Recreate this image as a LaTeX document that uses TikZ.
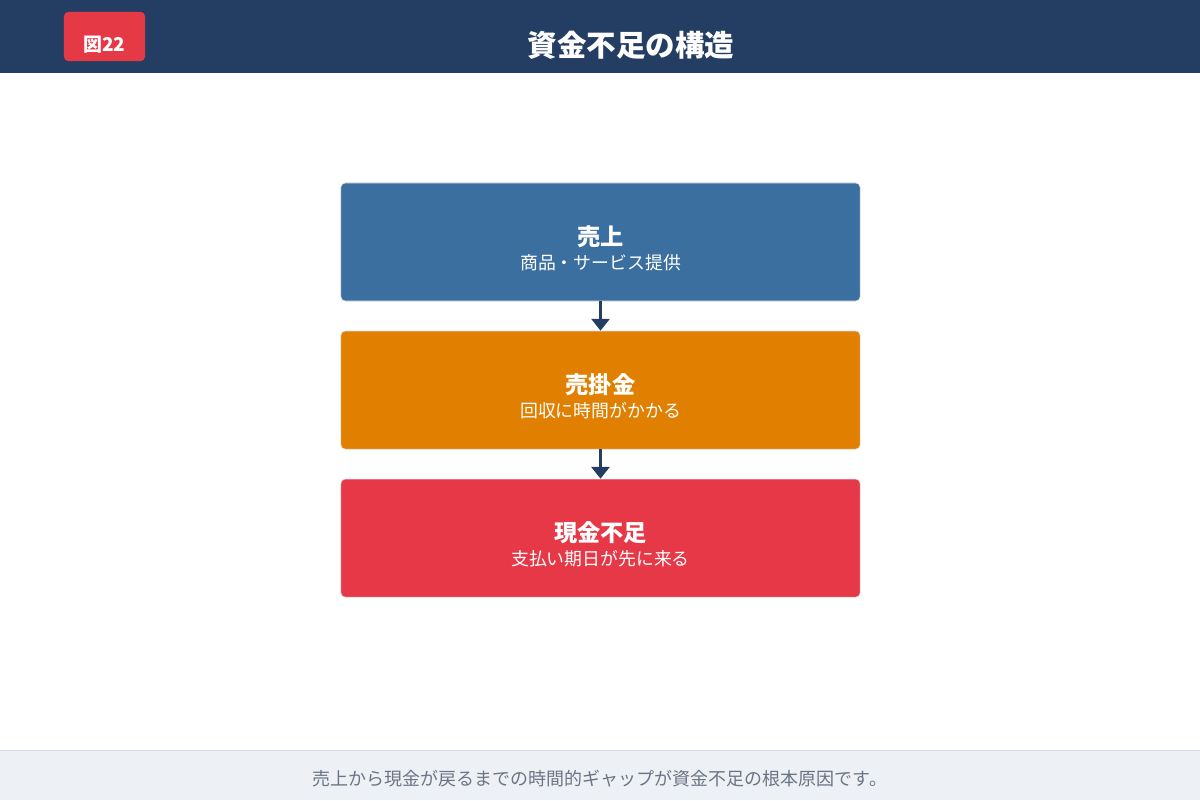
\documentclass[tikz,border=0pt]{standalone}
\usepackage{fontspec}
\setmainfont{Noto Sans CJK JP}
\usepackage{tikz}
\usetikzlibrary{arrows.meta,calc,positioning}
\definecolor{navy}{HTML}{243E63}
\definecolor{badgered}{HTML}{E63946}
\definecolor{boxblue}{HTML}{3B6FA0}
\definecolor{boxorange}{HTML}{E07F00}
\definecolor{boxred}{HTML}{E63846}
\definecolor{footbg}{HTML}{EDF1F6}
\definecolor{footline}{HTML}{D3DAE4}
\definecolor{foottext}{HTML}{6B7585}
\newcommand{\steptext}[2]{\rule{0pt}{23pt}{\fontsize{16.5}{17.7}\selectfont\bfseries #1}\\
    {\fontsize{12.7}{17.7}\selectfont #2}}
\tikzstyle{step box}=[rectangle, rounded corners=3pt, minimum width=12.975cm,
                    minimum height=2.95cm, inner sep=0pt, align=center,
                    text=white, draw=white!75!gray, line width=0.4pt,
                    font=\fontsize{12.7}{17.7}\selectfont]
\tikzstyle{flow}  =[draw=navy, line width=2.1pt,
                    -{Triangle[length=8.5pt, width=12.8pt]}]
\tikzstyle{label} =[inner sep=1pt, fill=none, draw=none]

\begin{document}
\begin{tikzpicture}[x=0.025cm, y=-0.025cm, node distance=3.7cm, on grid]
    \useasboundingbox (0,0) rectangle (1200,800);
    % header
    \fill[navy] (0,0) rectangle (1200,73);
    \node (badge) [rectangle, fill=badgered, rounded corners=3pt,
        minimum width=2.025cm, minimum height=1.225cm] at (104.5,36.5) {};
    \node (fig) [label, text=white, font=\fontsize{13.5}{16}\selectfont\bfseries]
        at (104.5,45) {図22};
    \node (title) [label, text=white, font=\fontsize{21}{25}\selectfont\bfseries]
        at (631,45) {資金不足の構造};
    % steps
    \node (uri) [step box, fill=boxblue] at (600.5,242)
        {\steptext{売上}{商品・サービス提供}};
    \node (kake) [step box, fill=boxorange, below= of uri]
        {\steptext{売掛金}{回収に時間がかかる}};
    \node (fusoku) [step box, fill=boxred, below= of kake]
        {\steptext{現金不足}{支払い期日が先に来る}};
    \draw[flow] (uri) -- (kake);
    \draw[flow] (kake) -- (fusoku);
    % footer
    \fill[footbg] (0,750) rectangle (1200,800);
    \draw[footline, line width=0.6pt] (0,750) -- (1200,750);
    \node (note) [label, text=foottext, font=\fontsize{12.8}{15}\selectfont]
        at (600,779) {売上から現金が戻るまでの時間的ギャップが資金不足の根本原因です。};
\end{tikzpicture}
\end{document}
